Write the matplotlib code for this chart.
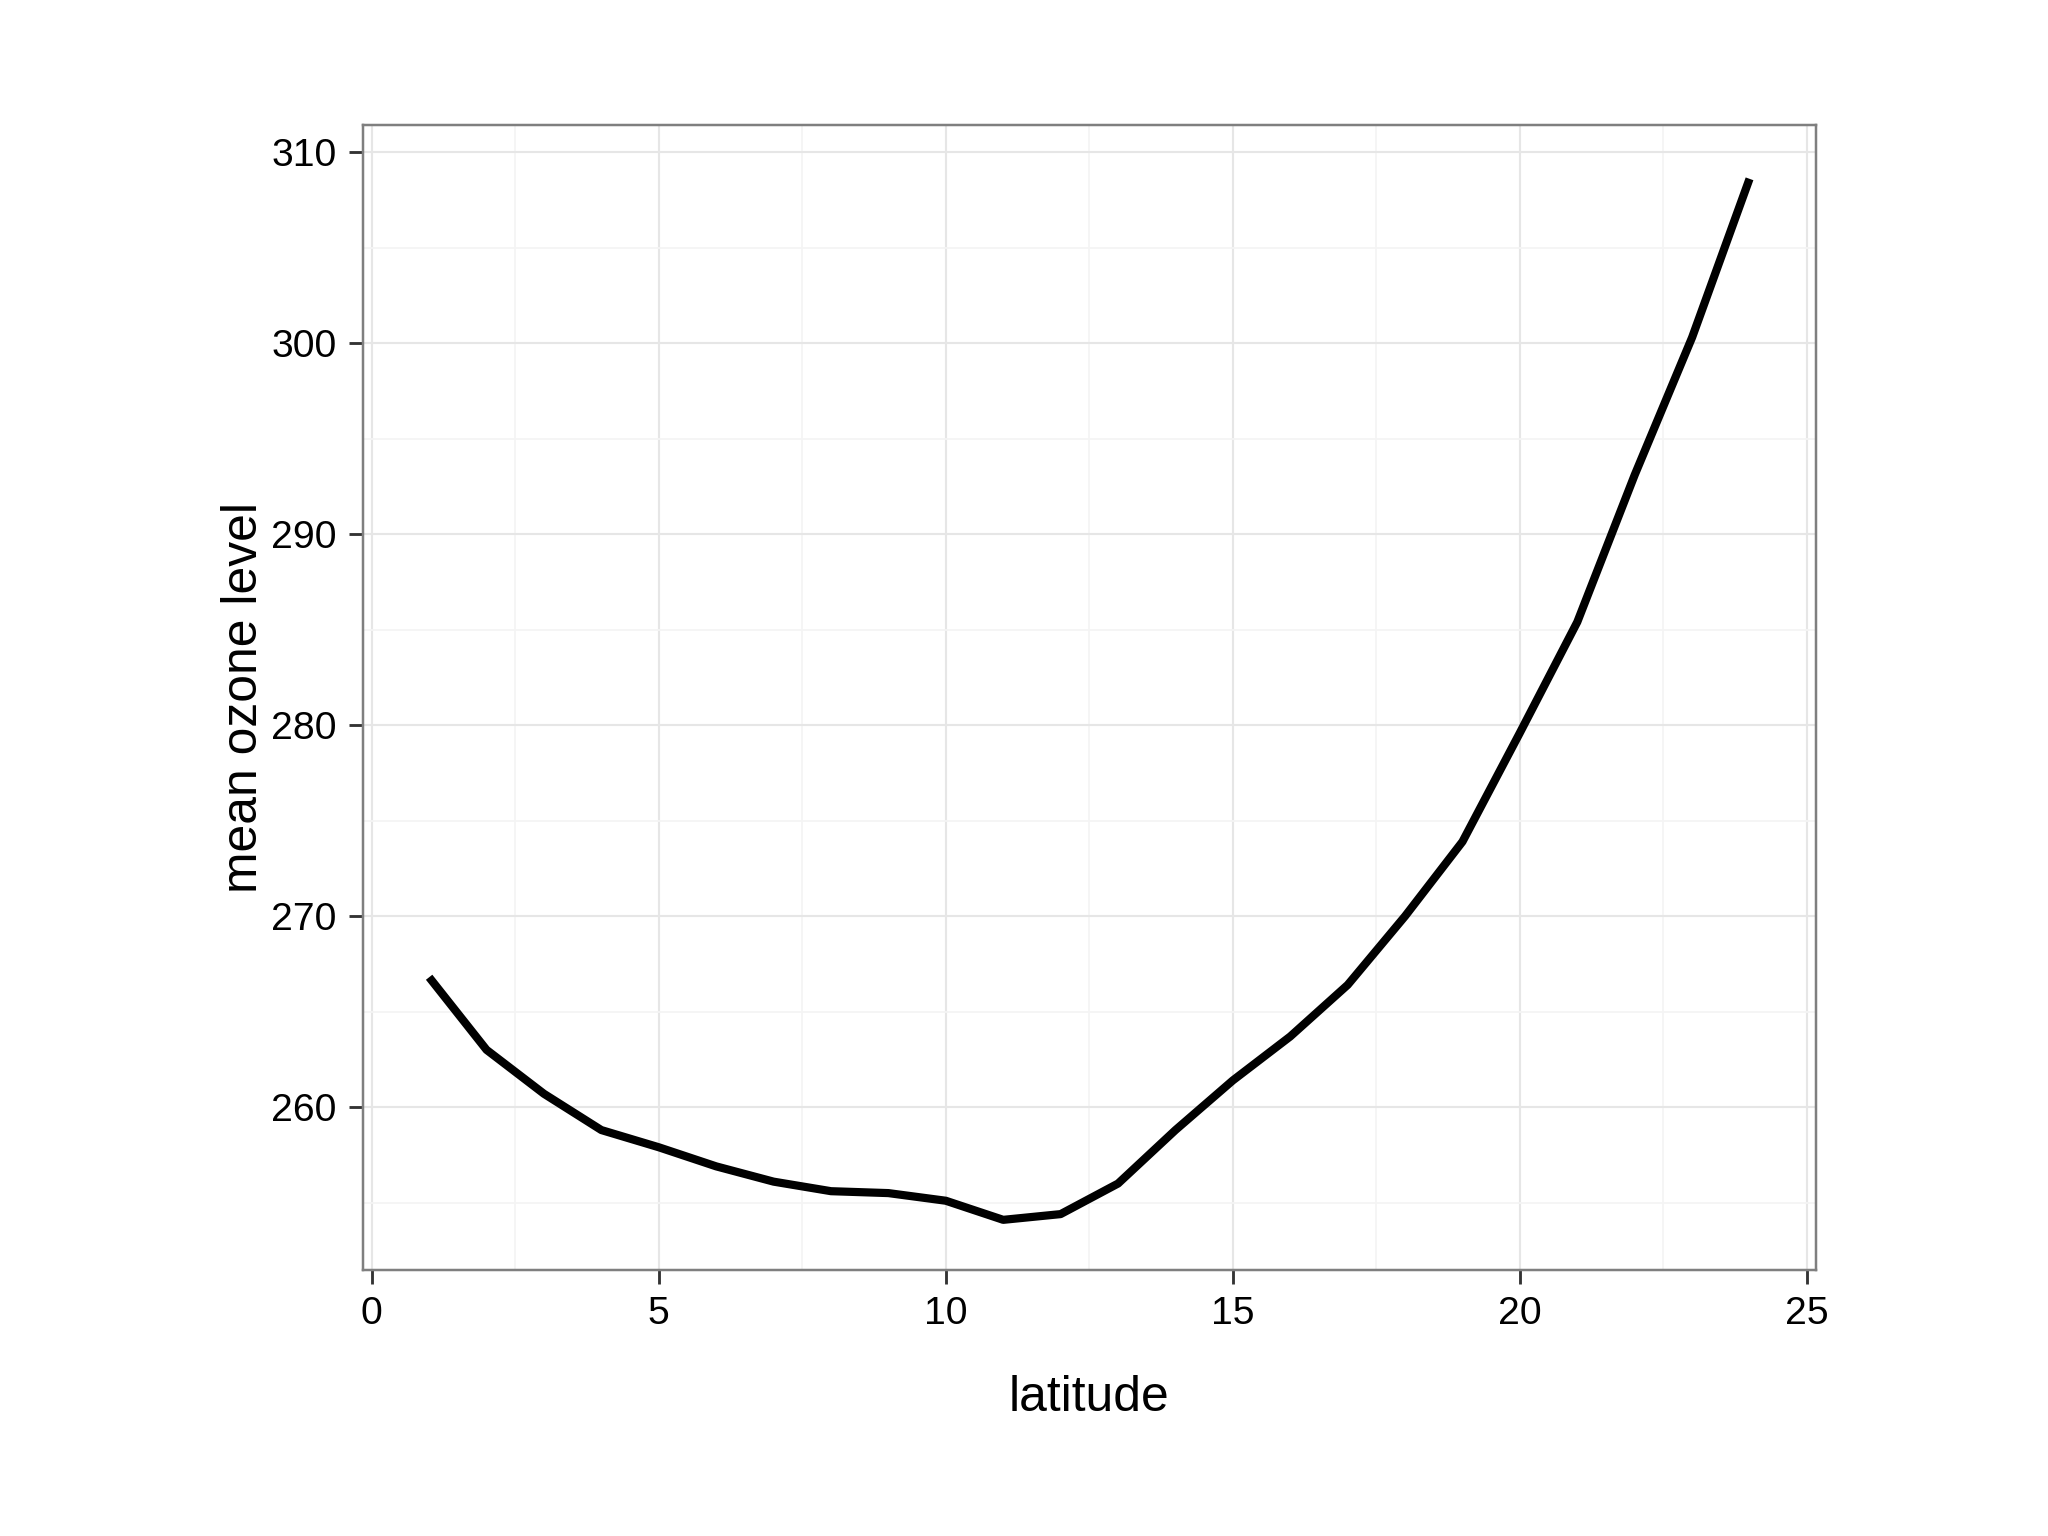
import matplotlib
matplotlib.use("Agg")
import matplotlib.pyplot as plt
from matplotlib.ticker import MultipleLocator

# mean ozone by latitude band
latitude = list(range(1, 25))
ozone = [266.8, 263.0, 260.7, 258.8, 257.9, 256.9, 256.1, 255.6, 255.5, 255.1,
         254.1, 254.4, 256.0, 258.8, 261.4, 263.7, 266.4, 270.0, 273.9, 279.6,
         285.4, 293.1, 300.3, 308.6]
x_ticks = [0, 5, 10, 15, 20, 25]
y_ticks = [260, 270, 280, 290, 300, 310]

plt.rcParams['font.family'] = ['Liberation Sans', 'DejaVu Sans']
fig = plt.figure(figsize=(8, 6), dpi=256)
ax = fig.add_axes([0.1773, 0.1735, 0.7092, 0.7449])

ax.plot(latitude, ozone, color='black', linewidth=2.3, solid_capstyle='butt')

ax.set_xlim(-0.15, 25.15)
ax.set_ylim(251.5, 311.4)
ax.set_xticks(x_ticks)
ax.set_yticks(y_ticks)
ax.xaxis.set_minor_locator(MultipleLocator(2.5))
ax.yaxis.set_minor_locator(MultipleLocator(5))
ax.grid(which='major', color='#e6e6e6', linewidth=0.6)
ax.grid(which='minor', color='#f4f4f4', linewidth=0.5)
ax.set_axisbelow(True)
ax.tick_params(which='minor', length=0)
ax.tick_params(which='major', length=4, width=0.8, color='#333333', labelsize=11)
for s in ax.spines.values():
    s.set_color('#7f7f7f')
    s.set_linewidth(0.7)

ax.set_xlabel('latitude', fontsize=14, labelpad=12)
ax.set_ylabel('mean ozone level', fontsize=14, labelpad=1)

fig.savefig('out.png', dpi=256)
